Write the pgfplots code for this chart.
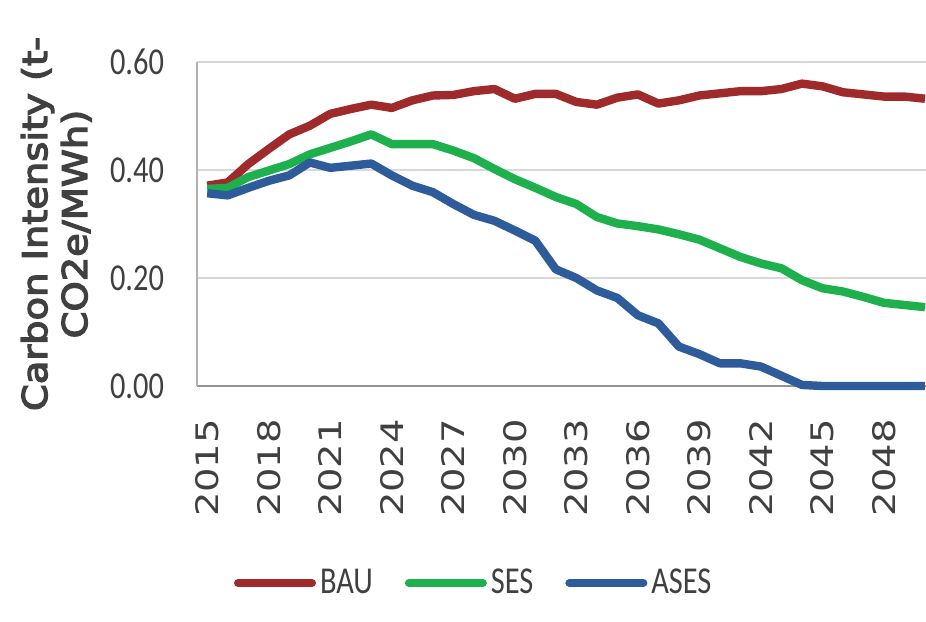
\documentclass[border=0pt]{standalone}
\usepackage{fontspec}
\setmainfont{Carlito}
\newfontfamily\tickfont[FakeStretch=0.8]{Carlito}
\newfontfamily\yearfont[FakeStretch=1.24]{DejaVu Sans}
\newfontfamily\labelfont[FakeStretch=1.13, FakeBold=4]{DejaVu Sans}
\usepackage{pgfplots}
\usepackage{pgfplotstable}
\pgfplotsset{compat=1.18}

\definecolor{bau}{HTML}{9E2A2B}
\definecolor{ses}{HTML}{1DB04C}
\definecolor{ases}{HTML}{2E5C9A}
\definecolor{txt}{HTML}{404040}

% carbon intensity, t-CO2e/MWh
\pgfplotstableread{
year bau ses ases
2015 0.371 0.365 0.357
2016 0.377 0.367 0.353
2017 0.411 0.387 0.367
2018 0.439 0.399 0.380
2019 0.466 0.411 0.390
2020 0.482 0.429 0.414
2021 0.504 0.441 0.404
2022 0.513 0.453 0.408
2023 0.521 0.466 0.412
2024 0.515 0.448 0.390
2025 0.529 0.448 0.371
2026 0.538 0.448 0.359
2027 0.539 0.436 0.337
2028 0.546 0.422 0.317
2029 0.550 0.402 0.306
2030 0.532 0.383 0.288
2031 0.541 0.367 0.269
2032 0.541 0.350 0.216
2033 0.526 0.337 0.200
2034 0.521 0.313 0.177
2035 0.534 0.301 0.163
2036 0.540 0.296 0.131
2037 0.523 0.290 0.116
2038 0.529 0.281 0.073
2039 0.538 0.271 0.059
2040 0.542 0.255 0.042
2041 0.546 0.239 0.042
2042 0.546 0.227 0.036
2043 0.550 0.218 0.019
2044 0.560 0.196 0.002
2045 0.555 0.181 0.000
2046 0.544 0.175 0.000
2047 0.540 0.165 0.000
2048 0.536 0.154 0.000
2049 0.536 0.150 0.000
2050 0.532 0.146 0.000
}\carbon

\begin{document}
\begin{tikzpicture}
\path[use as bounding box] (-98.5pt,-117.5pt) rectangle (364.5pt,193pt);
\begin{axis}[
    scale only axis,
    width=364.5pt, height=162pt,
    xmin=2014.5, xmax=2050.05,
    ymin=0, ymax=0.6,
    clip=false,
    axis x line*=bottom,
    axis y line*=left,
    x axis line style={draw=gray!85, line width=0.8pt, -},
    y axis line style={draw=gray!60, line width=0.8pt, -},
    major tick length=0pt,
    xtick={2015,2018,...,2048},
    ytick={0,0.2,0.4,0.6},
    ymajorgrids,
    grid style={draw=black!15, line width=0.8pt},
    /pgf/number format/assume math mode=true,
    xticklabel style={/pgf/number format/1000 sep={}, rotate=90, anchor=east,
        xshift=-13pt, font=\yearfont\fontsize{15.5}{18}\selectfont, text=txt},
    yticklabel style={/pgf/number format/fixed, /pgf/number format/fixed zerofill,
        /pgf/number format/precision=2, xshift=-13pt,
        font=\tickfont\fontsize{19}{22}\selectfont, text=txt},
    ylabel={Carbon Intensity (t-\\CO2e/MWh)},
    ylabel style={at={(axis description cs:-0.193,0.5)}, anchor=center,
        align=center, font=\labelfont\fontsize{17}{20}\selectfont, text=txt},
    legend style={at={(axis description cs:0.381,-0.608)}, anchor=center,
        draw=none, fill=none, legend columns=3,
        font=\tickfont\fontsize{19}{22}\selectfont, text=txt,
        /tikz/every even column/.append style={column sep=14pt}},
    legend image code/.code={\draw[#1, line width=4pt, line cap=round] (0pt,0pt) -- (37pt,0pt);},
    every axis plot/.append style={line width=4.2pt, line join=round, mark=none},
]
\addplot[bau] table[x=year, y=bau] {\carbon};
\addlegendentry{BAU}
\addplot[ses] table[x=year, y=ses] {\carbon};
\addlegendentry{SES}
\addplot[ases] table[x=year, y=ases] {\carbon};
\addlegendentry{ASES}
\end{axis}
\end{tikzpicture}
\end{document}
